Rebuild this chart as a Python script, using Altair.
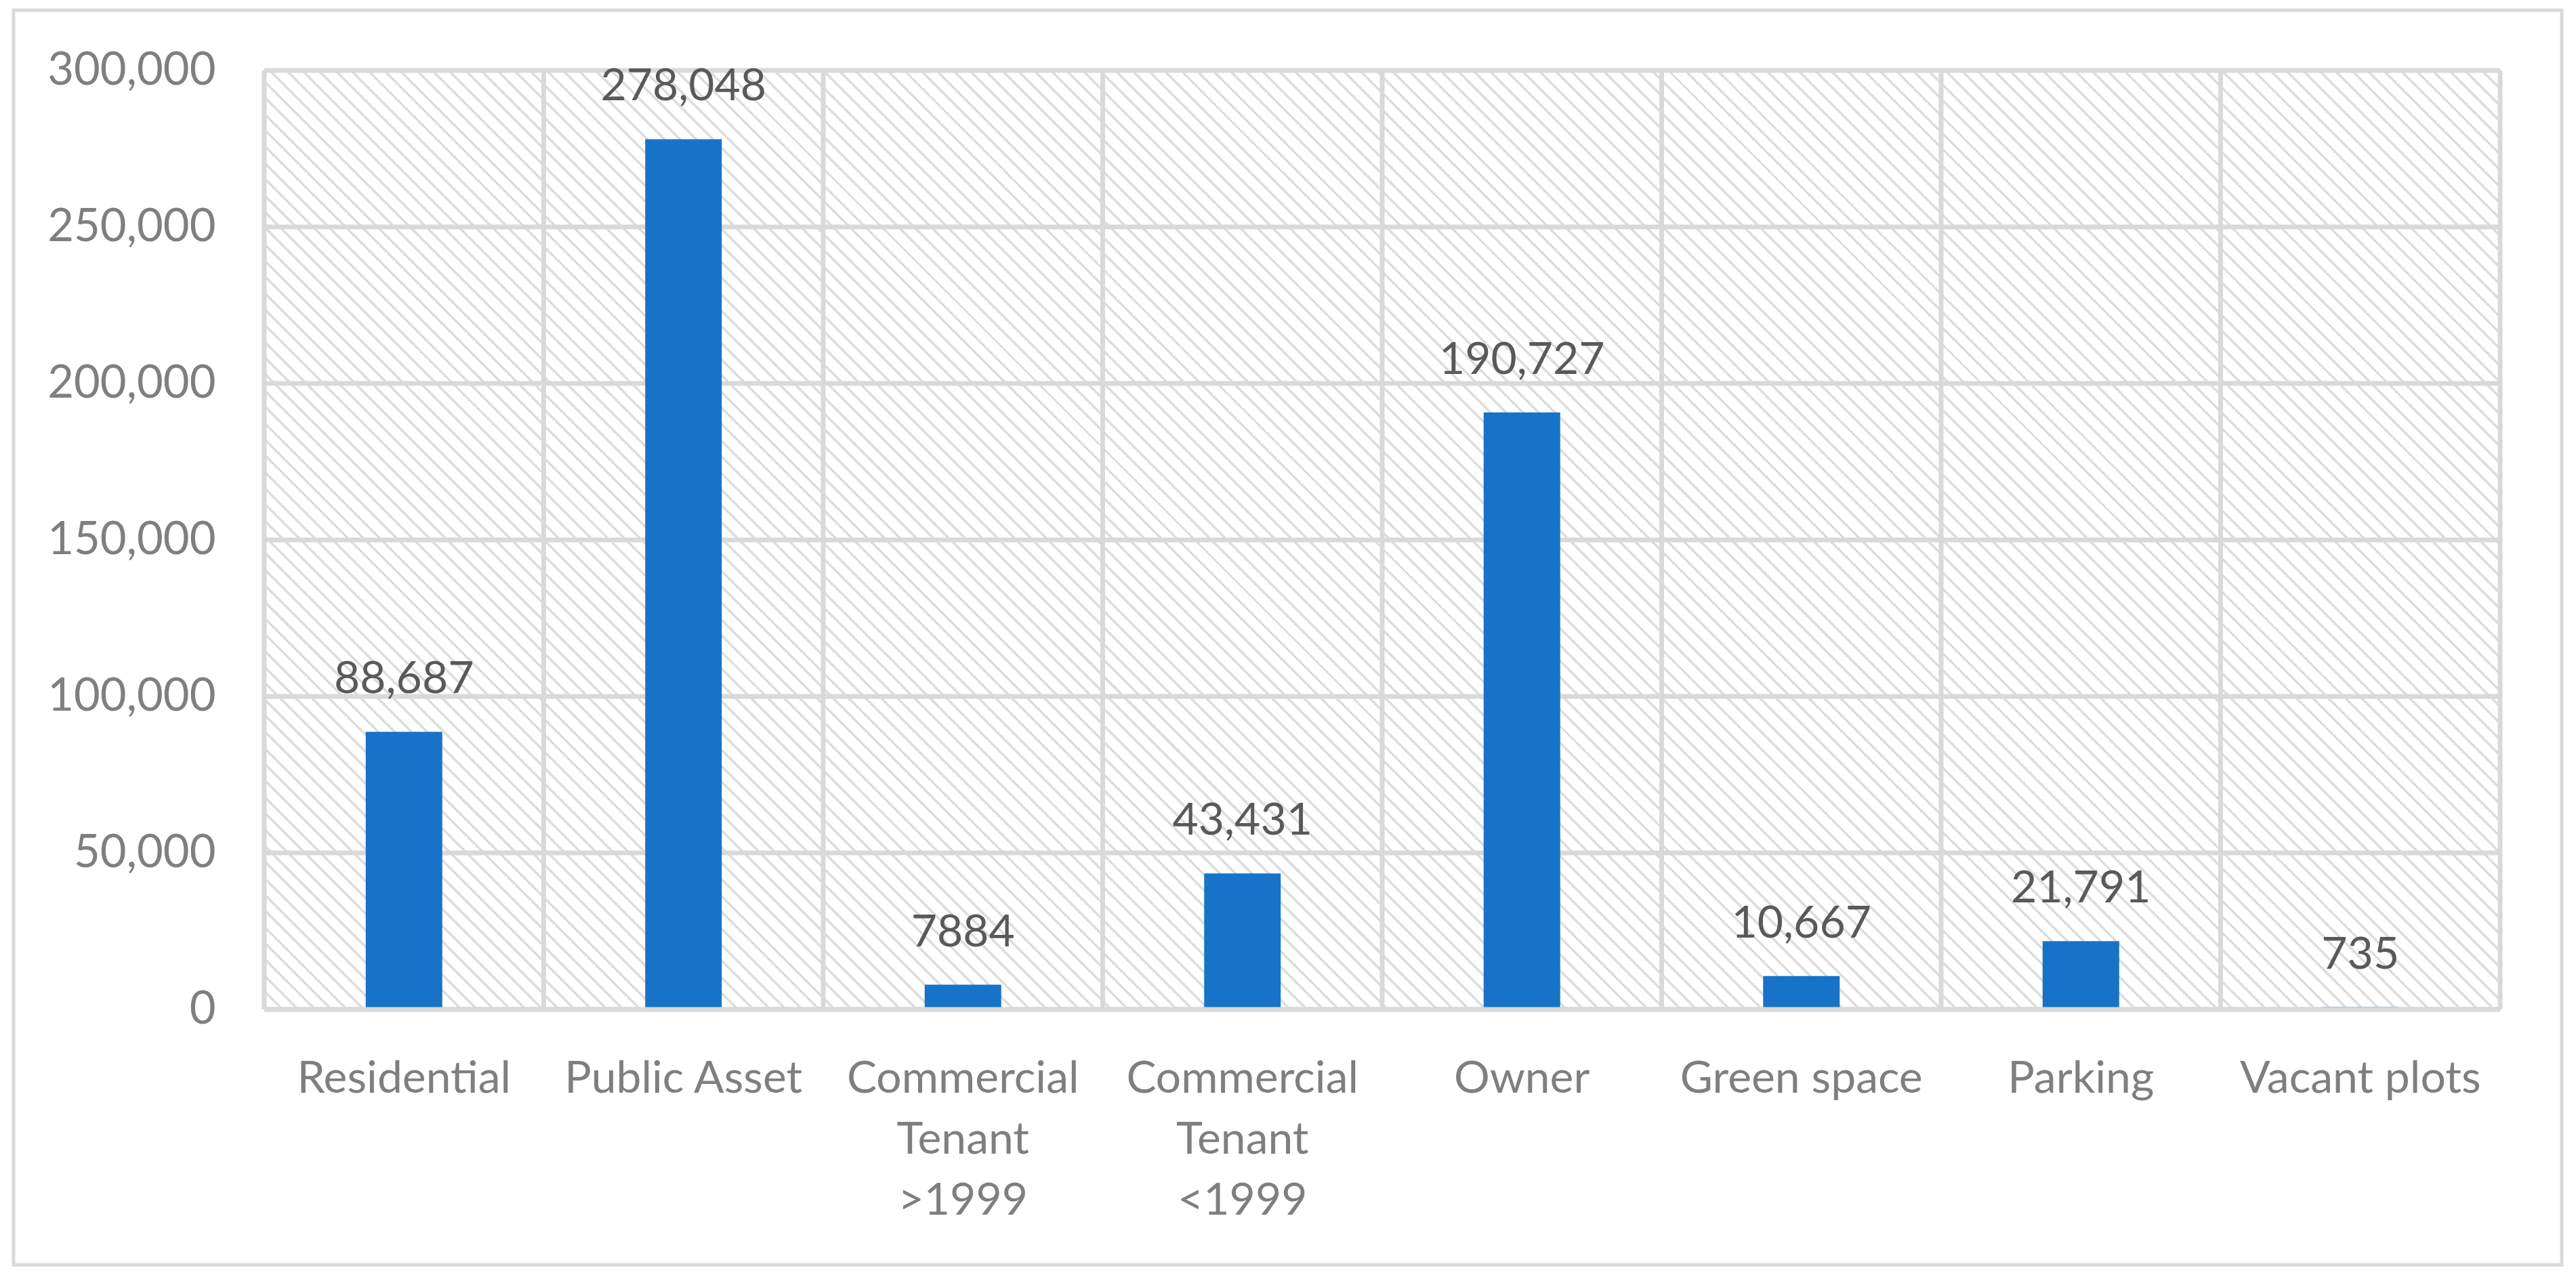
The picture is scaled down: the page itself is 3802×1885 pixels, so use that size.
import altair as alt
import pandas as pd

# ---- data ----
categories = ["Residential", "Public Asset", "Commercial Tenant >1999", "Commercial Tenant <1999",
              "Owner", "Green space", "Parking", "Vacant plots"]
values = [88687, 278048, 7884, 43431, 190727, 10667, 21791, 735]
value_labels = ["88,687", "278,048", "7884", "43,431", "190,727", "10,667", "21,791", "735"]
y_ticks = [0, 50000, 100000, 150000, 200000, 250000, 300000]

bars_df = pd.DataFrame({"cat": categories, "val": values, "lbl": value_labels})
cats_df = pd.DataFrame({"cat": categories})
last_df = pd.DataFrame({"cat": categories[-1:]})
ticks_df = pd.DataFrame({"tick": y_ticks})
zero_df = pd.DataFrame({"tick": y_ticks[:1]})
area_df = pd.DataFrame({"lo": [y_ticks[0]], "hi": [y_ticks[-1]]})

W, H = 3300, 1386
FONT = "Lato"
GRID = "#d9d9d9"
HATCH = "#dddddd"
GW = 7

# ---- diagonal hatch as a hard-stop linear gradient ----
r = H / W
a = (1 + r) / (1 + r * r)
period = 24.0 / (W + H)
stripe = 5.0 / (W + H)
stops = []
k = 0
while k * period < 1.0:
    t0 = k * period
    t1 = min(t0 + stripe, 1.0)
    t2 = min(t0 + period, 1.0)
    stops.append(alt.GradientStop(color=HATCH, offset=round(t0, 6)))
    stops.append(alt.GradientStop(color=HATCH, offset=round(t1, 6)))
    stops.append(alt.GradientStop(color="#ffffff", offset=round(t1, 6)))
    stops.append(alt.GradientStop(color="#ffffff", offset=round(t2, 6)))
    k += 1
hatch = alt.LinearGradient(gradient="linear", stops=stops, x1=0, y1=1, x2=a, y2=1 - a * r)

xaxis = alt.Axis(title=None, domain=False, ticks=False, tickSize=0, grid=False,
                 labelAngle=0, labelFont=FONT, labelFontSize=66, labelColor="#7f7f7f",
                 labelPadding=70, labelLineHeight=90, labelLimit=0,
                 labelExpr="indexof(datum.label, 'Tenant') >= 0 ? split(datum.label, ' ') : datum.label")
yaxis = alt.Axis(title=None, domain=False, ticks=False, tickSize=0, grid=False,
                 values=y_ticks, format=",d", labelFont=FONT, labelFontSize=67,
                 labelColor="#7f7f7f", labelPadding=72, labelLimit=0)
xscale = alt.Scale(paddingInner=0, paddingOuter=0)
yscale = alt.Scale(domain=[0, 300000], nice=False, zero=True)


def X(bp=None):
    if bp is None:
        return alt.X("cat:N", sort=categories, scale=xscale, axis=xaxis)
    return alt.X("cat:N", sort=categories, scale=xscale, axis=xaxis, bandPosition=bp)


def Y(field):
    return alt.Y(field, scale=yscale, axis=yaxis)


frame = alt.Chart(alt.Data(values=[{"f": 1}])).mark_rect(
    fill=None, stroke=GRID, strokeWidth=5
).encode(x=alt.value(-370), x2=alt.value(3391), y=alt.value(-89), y2=alt.value(1763))

background = alt.Chart(area_df).mark_rect(fill=hatch).encode(
    y=Y("lo:Q"), y2="hi:Q"
)

hgrid = alt.Chart(ticks_df).mark_rule(color=GRID, strokeWidth=GW).encode(y=Y("tick:Q"))
vgrid = alt.Chart(cats_df).mark_rule(color=GRID, strokeWidth=GW).encode(x=X(0))
vlast = alt.Chart(last_df).mark_rule(color=GRID, strokeWidth=GW).encode(x=X(1))

bars = alt.Chart(bars_df).mark_bar(size=113, color="#1773C8").encode(x=X(), y=Y("val:Q"))
zero_line = alt.Chart(zero_df).mark_rule(color=GRID, strokeWidth=GW).encode(y=Y("tick:Q"))
text = alt.Chart(bars_df).mark_text(
    font=FONT, fontSize=66, color="#595959", baseline="alphabetic", dy=-57
).encode(x=X(), y=Y("val:Q"), text="lbl:N")

chart = alt.layer(frame, background, hgrid, vgrid, vlast, bars, zero_line, text).properties(
    width=W, height=H,
    autosize=alt.AutoSizeParams(type="none"),
    padding={"left": 382, "top": 96, "right": 100, "bottom": 380},
).configure_view(stroke=None).configure(background="white")

chart.save("out.html", embed_options={"renderer": "svg", "actions": False})
